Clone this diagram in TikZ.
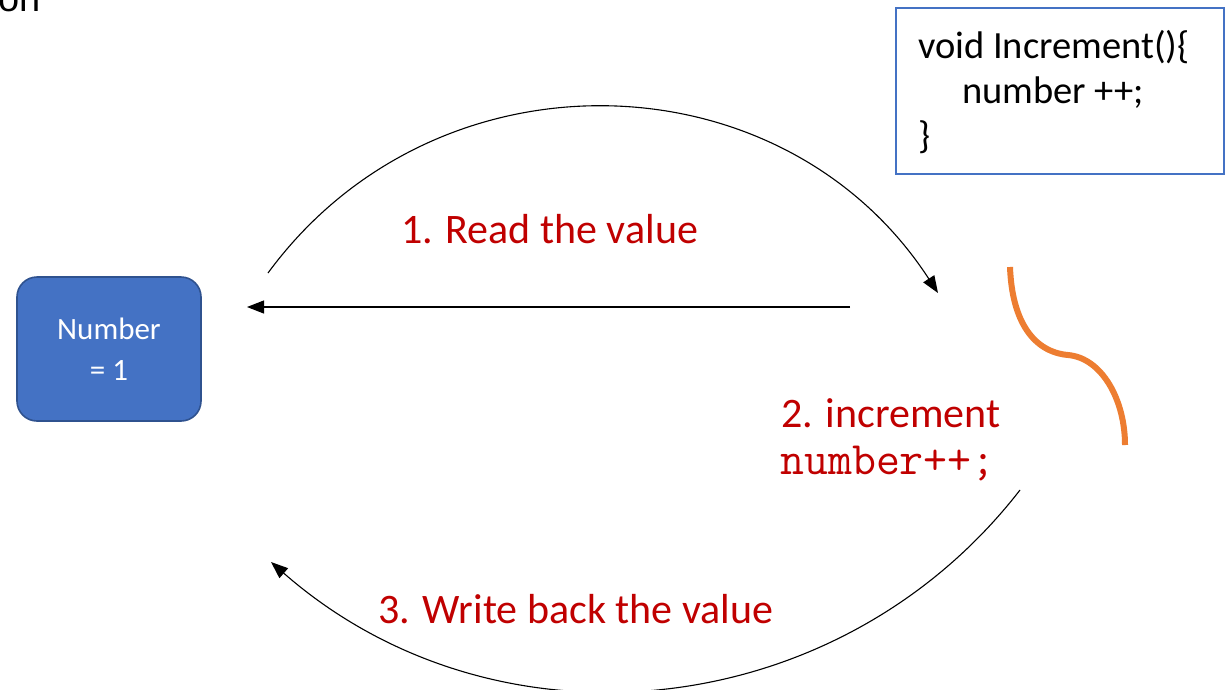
\documentclass[tikz,border=0pt]{standalone}
\usepackage{fontspec}
\setmainfont{Carlito}
\newfontfamily\titlefont{Liberation Sans}
\usetikzlibrary{arrows.meta}
\definecolor{boxblue}{HTML}{4472C4}
\definecolor{boxedge}{HTML}{2F528F}
\definecolor{labelred}{HTML}{C00000}
\definecolor{braceorange}{HTML}{ED7D31}
\tikzset{
  conn/.style={draw=black, line width=1.1pt, -{Triangle[length=17pt,width=13pt]}},
  steplabel/.style={anchor=base west, inner sep=0pt, text=labelred, font=\fontsize{42}{50}\selectfont},
  numbox/.style={draw=boxedge, line width=1.6pt, fill=boxblue, rounded corners=20pt, minimum width=184pt, minimum height=144pt, text=white, align=center, font=\fontsize{31}{41}\selectfont},
  codebox/.style={draw=boxblue, line width=1.8pt, minimum width=328pt, minimum height=166pt},
  codeline/.style={anchor=base west, inner sep=0pt, font=\fontsize{38.5}{45}\selectfont}
}
\begin{document}
\begin{tikzpicture}[x=1pt,y=-1pt]
\useasboundingbox (0,0) rectangle (1228,689);
\clip (0,0) rectangle (1228,689);
\fill[white] (0,0) rectangle (1228,689);
% cut-off title
\node[anchor=base west, inner sep=0pt, font=\titlefont\fontsize{38}{44}\selectfont] (title) at (-2,11) {on};
% number box
\node[numbox] (num) at (109,349) {Number\\= 1};
% code box
\node[codebox] (code) at (1060,91) {};
\node[codeline] (c1) at (918,58) {void Increment()\{};
\node[codeline] (c2) at (962,103) {number ++;};
\node[codeline] (c3) at (918,148) {\}};
% labels
\node[steplabel] (l1) at (401,243) {1. Read the value};
\node[steplabel] (l2) at (781,427) {2. increment};
\node[anchor=base west, inner sep=0pt, text=labelred, font=\ttfamily\fontsize{46.5}{52}\selectfont] (l2b) at (780,474) {number++;};
\node[steplabel] (l3) at (378,623) {3. Write back the value};
% connector end points
\coordinate (a1s) at (268,273);
\coordinate (a1e) at (938,293);
\coordinate (a2s) at (850,307);
\coordinate (a2e) at (247,307);
\coordinate (a3s) at (1020,490);
\coordinate (a3e) at (271,562);
\draw[conn] (a1s) .. controls (436,44) and (783,54) .. (a1e);
\draw[conn] (a2s) -- (a2e);
\draw[conn] (a3s) .. controls (838,725) and (496,759) .. (a3e);
% orange brace
\coordinate (b1) at (1010,267);
\coordinate (bm) at (1068,355);
\coordinate (b2) at (1125,445);
\draw[braceorange, line width=6pt] (b1) .. controls (1012,322) and (1034,352) .. (bm) .. controls (1102,358) and (1125,400) .. (b2);
\end{tikzpicture}
\end{document}
